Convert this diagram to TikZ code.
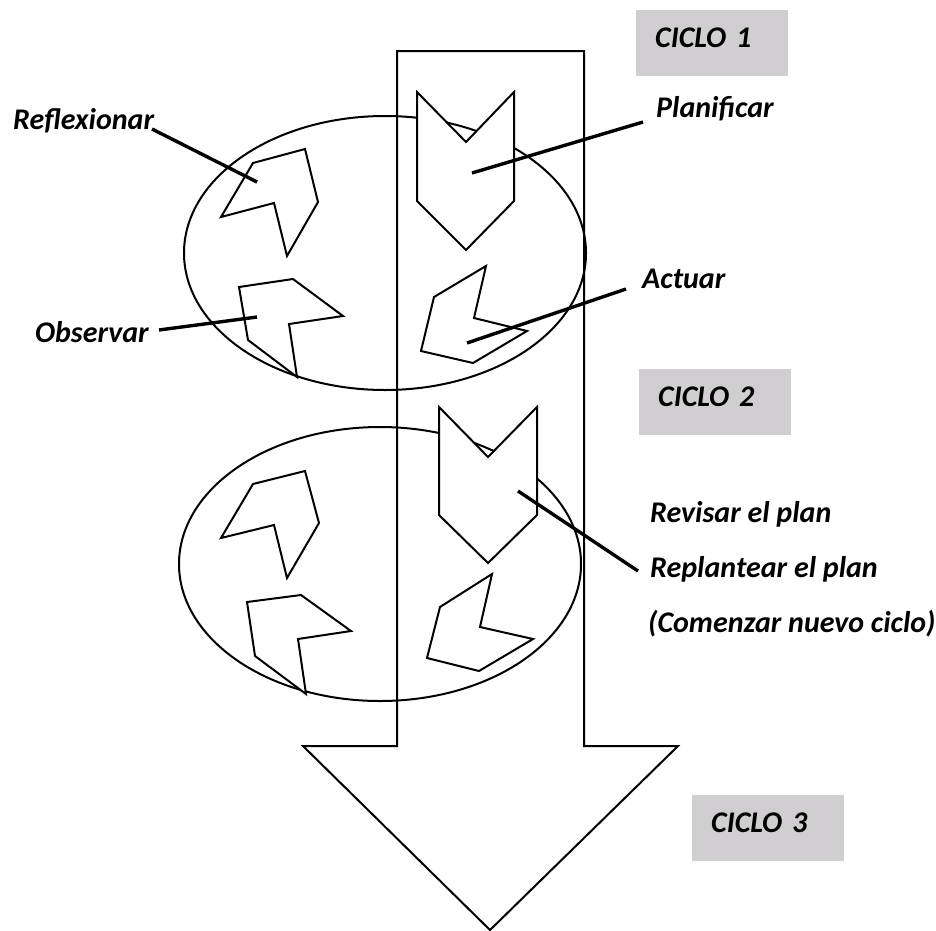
\documentclass[tikz,border=0pt]{standalone}
\usepackage{fontspec}
\setmainfont{Carlito}
\definecolor{cyclegray}{RGB}{208,206,208}
\tikzset{
  outline/.style={line width=2pt, line join=miter},
  piece/.style={outline, fill=white},
  leader/.style={line width=3.4pt},
  tag/.style={anchor=base west, inner sep=0pt, font=\fontsize{30}{36}\selectfont\bfseries\itshape},
  cyclebox/.style={anchor=north west, fill=cyclegray, minimum height=66pt, text width=114pt,
    inner xsep=19pt, inner ysep=0pt, text depth=12pt, align=left,
    font=\fontsize{30}{36}\selectfont\bfseries\itshape}
}
\begin{document}
\begin{tikzpicture}[x=1pt,y=-1pt]
  \useasboundingbox (0,0) rectangle (936,930);
  % big arrow
  \draw[outline] (397,51) -- (584,51) -- (584,746) -- (678,746) -- (490,930)
    -- (303,746) -- (397,746) -- cycle;
  % cycle 1
  \draw[outline] (385,253) ellipse [x radius=201, y radius=137];
  \filldraw[piece] (417,92) -- (466,142) -- (514,92) -- (514,201) -- (466,250) -- (417,201) -- cycle;
  \filldraw[piece] (253,163) -- (305,149) -- (318,202) -- (287,256) -- (274,203) -- (221,217) -- cycle;
  \filldraw[piece] (239,287) -- (293,279) -- (343,316) -- (289,324) -- (297,377) -- (248,340) -- cycle;
  \filldraw[piece] (486,266) -- (474,318) -- (527,331) -- (473,363) -- (421,351) -- (434,297) -- cycle;
  % cycle 2
  \draw[outline] (380,564) ellipse [x radius=201, y radius=137];
  \filldraw[piece] (439,407) -- (488,457) -- (537,407) -- (537,515) -- (488,563) -- (439,515) -- cycle;
  \filldraw[piece] (253,484) -- (305,471) -- (319,523) -- (287,578) -- (274,525) -- (221,538) -- cycle;
  \filldraw[piece] (247,602) -- (301,595) -- (351,631) -- (298,639) -- (306,694) -- (255,656) -- cycle;
  \filldraw[piece] (492,574) -- (480,627) -- (533,639) -- (479,671) -- (427,658) -- (440,607) -- cycle;

  % labels
  \node[tag] (reflexionar) at (13,129) {Reflexionar};
  \node[tag] (observar) at (35,342) {Observar};
  \node[tag] (planificar) at (656,117) {Planificar};
  \node[tag] (actuar) at (642,288) {Actuar};
  \node[tag] (revisar) at (650,522) {Revisar el plan};
  \node[tag] (replantear) at (650,577) {Replantear el plan};
  \node[tag] (comenzar) at (648,632) {(Comenzar nuevo ciclo)};
  \node[cyclebox] (ciclo1) at (636,10) {CICLO 1};
  \node[cyclebox] (ciclo2) at (639,369) {CICLO 2};
  \node[cyclebox] (ciclo3) at (692,795) {CICLO 3};

  % leader lines
  \coordinate (reflexionarEnd) at (152,129);
  \coordinate (observarEnd) at (159,330);
  \coordinate (planificarEnd) at (643,122);
  \coordinate (actuarEnd) at (626,289);
  \coordinate (replantearEnd) at (638,571);
  \draw[leader] (reflexionarEnd) -- (257,182);
  \draw[leader] (observarEnd) -- (257,317);
  \draw[leader] (472,173) -- (planificarEnd);
  \draw[leader] (467,343) -- (actuarEnd);
  \draw[leader] (518,491) -- (replantearEnd);
\end{tikzpicture}
\end{document}
